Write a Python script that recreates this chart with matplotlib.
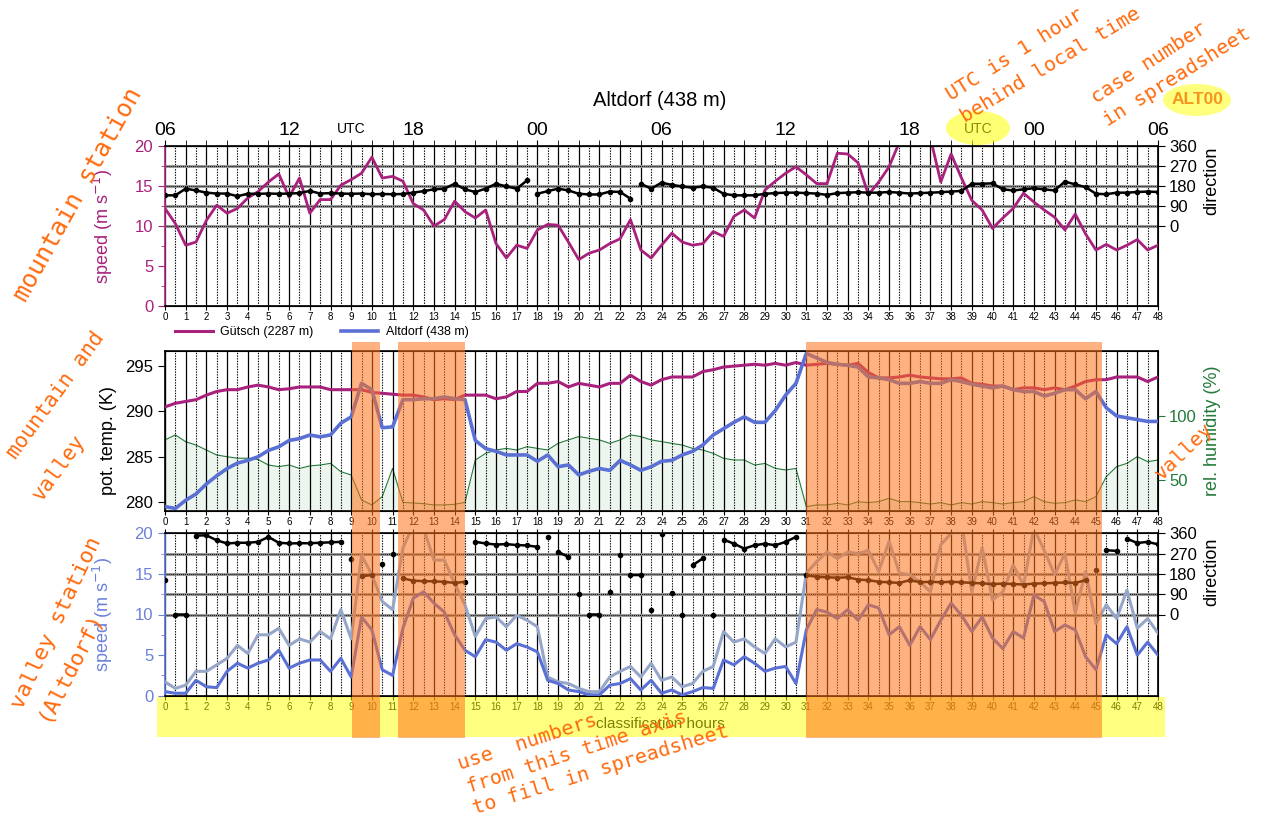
import numpy as np
import matplotlib.pyplot as plt
from matplotlib.patches import Rectangle, Ellipse
from matplotlib.transforms import blended_transform_factory

plt.rcParams['font.family'] = ['Liberation Sans', 'DejaVu Sans']

# 1 - data (half-hourly, classification hours 0..48)

hours = np.arange(0, 48.5, 0.5)

guetsch_speed = [12.2, 10.3, 7.6, 8.0, 10.7, 12.6, 11.6, 12.2, 13.5, 14.3,
                 15.5, 16.5, 13.6, 16.0, 11.6, 13.3, 13.3, 15.1, 15.8, 16.6,
                 18.6, 16.0, 16.2, 15.6, 12.8, 12.0, 10.0, 10.8, 13.1, 11.8,
                 11.0, 12.0, 7.8, 6.0, 7.6, 7.2, 9.5, 10.2, 10.1, 8.0,
                 5.8, 6.6, 7.0, 7.8, 8.4, 10.8, 7.0, 6.0, 7.6, 9.1,
                 8.0, 7.6, 7.8, 9.3, 8.7, 11.2, 12.0, 11.0, 14.5, 15.6,
                 16.6, 17.4, 16.4, 15.3, 15.3, 19.1, 19.0, 17.9, 13.9, 15.5,
                 17.4, 20.5, 23.0, 24.0, 21.0, 15.5, 19.0, 16.0, 13.2, 12.0,
                 9.7, 11.0, 12.2, 14.1, 13.0, 12.0, 11.1, 9.5, 11.5, 9.0,
                 7.0, 7.7, 7.0, 7.6, 8.3, 7.0, 7.6]

guetsch_dir = [138, 138, 168, 160, 150, 146, 146, 134, 145, 145,
               146, 145, 146, 148, 158, 146, 148, 146, 145, 146,
               143, 144, 143, 144, 150, 157, 165, 168, 190, 165,
               153, 168, 190, 178, 168, 205, 145, 157, 168, 160,
               145, 142, 142, 155, 153, 123, 190, 168, 195, 185,
               178, 172, 178, 172, 145, 138, 138, 138, 145, 148,
               150, 150, 148, 146, 140, 148, 150, 152, 150, 150,
               153, 150, 146, 148, 150, 152, 155, 158, 190, 190,
               192, 165, 160, 165, 170, 165, 160, 200, 187, 175,
               145, 143, 150, 150, 153, 155, 153]

guetsch_theta = [290.5, 290.9, 291.1, 291.3, 291.8, 292.2, 292.4, 292.4, 292.7, 292.9,
                 292.7, 292.4, 292.5, 292.7, 292.7, 292.7, 292.4, 292.4, 292.4, 292.4,
                 292.1, 292.0, 291.9, 291.8, 291.8, 291.6, 291.3, 291.4, 291.3, 291.8,
                 291.8, 291.8, 291.4, 291.6, 292.2, 292.2, 293.1, 293.1, 293.3, 292.7,
                 293.1, 292.9, 292.7, 293.1, 293.1, 294.0, 293.3, 292.9, 293.5, 293.8,
                 293.8, 293.8, 294.4, 294.6, 294.9, 295.0, 295.1, 295.2, 295.1, 295.3,
                 295.1, 295.4, 295.1, 295.2, 295.3, 295.2, 295.1, 295.3, 294.3, 293.7,
                 293.7, 293.8, 294.0, 293.8, 293.7, 293.6, 293.6, 293.7, 293.1, 293.0,
                 292.8, 292.8, 292.4, 292.6, 292.6, 292.4, 292.6, 292.4, 292.8, 293.3,
                 293.5, 293.5, 293.8, 293.8, 293.8, 293.3, 293.8]

altdorf_theta = [279.5, 279.3, 280.2, 280.9, 282.0, 282.9, 283.7, 284.3, 284.6, 285.0,
                 285.7, 286.1, 286.8, 287.0, 287.4, 287.2, 287.4, 288.7, 289.4, 293.1,
                 292.4, 288.2, 288.3, 291.3, 291.3, 291.4, 291.4, 291.6, 291.4, 291.3,
                 286.8, 285.9, 285.6, 285.2, 285.2, 285.2, 284.5, 285.2, 283.9, 284.1,
                 283.0, 283.4, 283.7, 283.5, 284.6, 284.1, 283.5, 283.9, 284.5, 284.6,
                 285.2, 285.6, 286.3, 287.4, 288.1, 288.8, 289.4, 288.8, 288.8, 290.1,
                 291.8, 293.1, 296.4, 295.9, 295.4, 295.2, 295.1, 294.9, 293.8, 293.7,
                 293.5, 293.1, 293.1, 293.3, 293.1, 293.1, 293.5, 293.3, 293.0, 292.8,
                 292.6, 292.8, 292.4, 292.2, 292.2, 291.7, 292.0, 292.4, 292.4, 291.4,
                 292.2, 290.4, 289.5, 289.3, 289.1, 288.9, 288.9]

altdorf_rh = [81.3, 85.2, 79.9, 77.3, 73.4, 69.5, 68.2, 67.0, 67.0, 66.0,
              61.7, 60.4, 61.7, 59.0, 61.0, 61.7, 63.0, 56.5, 53.9, 34.4,
              30.5, 37.0, 59.0, 32.5, 32.0, 31.5, 30.5, 30.5, 31.0, 32.5,
              65.6, 70.8, 73.4, 74.7, 73.4, 76.0, 74.7, 73.4, 78.6, 81.3,
              83.9, 82.6, 81.3, 78.6, 81.3, 85.2, 83.9, 81.3, 80.0, 78.6,
              77.3, 74.7, 73.4, 70.8, 66.9, 65.6, 65.6, 61.7, 62.9, 59.1,
              57.8, 59.0, 29.2, 30.5, 30.5, 31.8, 30.5, 33.0, 32.3, 33.1,
              35.7, 33.1, 33.1, 32.3, 31.2, 32.3, 30.5, 32.3, 31.2, 33.1,
              32.3, 31.2, 32.3, 33.1, 37.0, 33.1, 31.8, 32.3, 34.4, 33.1,
              37.0, 52.6, 60.4, 63.0, 68.2, 64.3, 65.6]

altdorf_speed = [0.5, 0.3, 0.3, 1.9, 1.1, 1.0, 3.0, 4.0, 3.4, 4.0,
                 4.4, 5.6, 3.4, 4.0, 4.4, 4.4, 3.0, 4.6, 2.3, 9.7,
                 8.1, 3.2, 2.5, 8.3, 12.0, 12.8, 11.4, 10.3, 7.5, 5.6,
                 4.8, 6.9, 6.6, 5.6, 6.4, 6.0, 5.4, 1.9, 1.5, 0.7,
                 0.5, 0.1, 0.1, 1.3, 1.5, 2.1, 0.7, 1.9, 0.3, 0.7,
                 0.1, 0.5, 1.0, 0.9, 4.4, 3.8, 4.8, 4.0, 3.0, 3.4,
                 3.6, 1.5, 8.1, 10.6, 10.3, 9.5, 10.6, 9.3, 11.2, 10.8,
                 7.5, 8.5, 6.2, 8.5, 6.9, 9.3, 11.4, 9.9, 7.9, 9.7,
                 7.1, 5.8, 7.9, 7.1, 12.4, 11.6, 7.9, 8.7, 8.1, 4.8,
                 3.2, 7.5, 6.4, 8.5, 5.0, 6.6, 5.0]

altdorf_gust = [1.7, 0.9, 1.3, 3.0, 3.0, 3.8, 4.6, 6.2, 5.2, 7.5,
                7.5, 8.3, 6.2, 7.0, 6.6, 7.9, 7.0, 10.6, 7.0, 17.3,
                14.9, 11.6, 10.6, 18.2, 21.0, 20.6, 16.7, 16.7, 13.8, 11.2,
                7.3, 9.5, 9.7, 8.5, 9.9, 9.3, 8.5, 2.3, 1.7, 1.5,
                0.9, 0.5, 0.5, 2.3, 3.0, 3.6, 2.3, 4.0, 1.9, 2.3,
                1.1, 1.5, 3.0, 3.6, 7.9, 6.6, 7.0, 6.0, 5.2, 7.0,
                6.0, 6.6, 15.1, 16.5, 17.7, 16.9, 17.7, 17.5, 17.9, 15.3,
                19.0, 15.1, 14.9, 14.0, 12.8, 18.6, 20.0, 21.5, 12.8, 18.2,
                11.8, 12.8, 16.1, 13.6, 20.6, 17.9, 14.9, 17.5, 10.2, 15.3,
                8.9, 11.2, 9.5, 13.0, 8.3, 9.5, 7.7]

altdorf_dir = [152, 0, 0, 350, 351, 329, 315, 318, 318, 322,
               344, 318, 315, 316, 316, 318, 320, 322, 244, 170,
               175, 225, 270, 160, 150, 148, 147, 145, 140, 145,
               322, 315, 310, 312, 308, 306, 300, 344, 278, 255,
               90, 0, 0, 101, 263, 175, 175, 20, 359, 95,
               0, 218, 249, 0, 332, 314, 292, 307, 314, 307,
               322, 344, 174, 167, 165, 163, 165, 155, 152, 145,
               143, 140, 152, 143, 145, 143, 145, 143, 140, 138,
               135, 137, 135, 133, 137, 138, 140, 142, 140, 152,
               196, 285, 282, 336, 317, 322, 311]

foehn_periods = [(9.03, 10.37), (11.27, 14.48), (30.98, 45.28)]

top_ticks = [0, 6, 12, 18, 24, 30, 36, 42, 48]
top_labels = ['06', '12', '18', '00', '06', '12', '18', '00', '06']

MAG = '#A8217D'
BLUE = '#5A70D4'
BLUE_TXT = '#6B80DA'
GUST = '#96A6C8'
GREEN = '#217A3A'
ORANGE_TXT = '#FF6A0D'

# 2 - figure and axes

W, H = 1268, 816
fig = plt.figure(figsize=(W / 100, H / 100), dpi=100)


def box(top, bot):
    return [165 / W, 1 - bot / H, 993 / W, (bot - top) / H]


ax1 = fig.add_axes(box(146, 306))
ax2 = fig.add_axes(box(350.7, 510.7))
ax3 = fig.add_axes(box(533.3, 695.7))


def time_grid(ax):
    for h in range(49):
        ax.axvline(h, color='black', lw=0.9, zorder=1)
    for h in np.arange(0.5, 48, 1):
        ax.axvline(h, color='black', lw=0.8, ls=(0, (1.2, 1.2)), zorder=1)
    ax.set_xlim(0, 48)
    ax.set_xticks(range(49))
    ax.set_xticklabels([str(h) for h in range(49)])
    ax.tick_params(axis='x', labelsize=7, length=3, pad=1.5)
    for s in ax.spines.values():
        s.set_linewidth(1.2)


def dir_grid(ax):
    for v in [10, 12.5, 15, 17.5]:
        ax.axhline(v, color='0.6', lw=2.2, zorder=1)
        ax.axhline(v, color='black', lw=0.7, ls=(0, (1, 1)), zorder=1)


def dir_axis(ax, label_y):
    axr = ax.twinx()
    axr.set_ylim(-360, 360)
    axr.set_yticks([0, 90, 180, 270, 360])
    axr.tick_params(labelsize=12, length=5, pad=3)
    axr.set_ylabel('direction', fontsize=13)
    axr.yaxis.set_label_coords(1.046, label_y)
    axr.spines['left'].set_visible(False)
    return axr


def dir_dots(axr, values, max_jump=40):
    # dots joined only where the direction changes little, like the dense 10-min dots
    xs, ys = [], []
    for i, v in enumerate(values):
        if i and abs(v - values[i - 1]) > max_jump:
            xs.append(np.nan)
            ys.append(np.nan)
        xs.append(hours[i])
        ys.append(v)
    axr.plot(xs, ys, '-o', color='black', lw=1.8, ms=3.0, zorder=4)


# top panel: mountain station
time_grid(ax1)
dir_grid(ax1)
ax1.plot(hours, guetsch_speed, color=MAG, lw=2.0, zorder=3)
ax1.set_ylim(0, 20)
ax1.set_yticks([0, 5, 10, 15, 20])
ax1.set_yticks(np.arange(0, 20, 2.5), minor=True)
ax1.tick_params(axis='y', colors=MAG, labelsize=12, length=5)
ax1.tick_params(axis='y', which='minor', colors=MAG, length=3)
ax1.spines['left'].set_color(MAG)
ax1.set_ylabel('speed (m s$^{-1}$)', color=MAG, fontsize=13)
ax1.yaxis.set_label_coords(-0.05, 0.5)

top = ax1.secondary_xaxis('top')
top.set_xticks(top_ticks, top_labels)
top.set_xticks(range(49), minor=True)
top.tick_params(labelsize=14, length=4, pad=1)
top.tick_params(which='minor', length=4)

ax1r = dir_axis(ax1, 0.78)
dir_dots(ax1r, guetsch_dir)

# middle panel: potential temperature and humidity
ax2r = ax2.twinx()
ax2r.fill_between(hours, 0, altdorf_rh, color='#EDF6EE', lw=0)
ax2r.plot(hours, altdorf_rh, color=GREEN, lw=0.8)
ax2r.set_ylim(26, 151)
ax2r.set_yticks([50, 100])
ax2r.tick_params(colors=GREEN, labelsize=12, length=5, pad=3)
ax2r.set_ylabel('rel. humidity (%)', color=GREEN, fontsize=13)
ax2r.yaxis.set_label_coords(1.046, 0.5)
ax2.set_zorder(ax2r.get_zorder() + 1)
ax2.patch.set_visible(False)

time_grid(ax2)
ax2.tick_params(axis='x', labelbottom=False)
ax2.plot(hours, guetsch_theta, color=MAG, lw=2.2, zorder=3, label='Gütsch (2287 m)')
ax2.plot(hours, altdorf_theta, color=BLUE, lw=2.6, zorder=3, label='Altdorf (438 m)')
ax2.set_ylim(279.05, 296.7)
ax2.set_yticks([280, 285, 290, 295])
ax2.tick_params(axis='y', labelsize=12, length=5)
ax2.set_ylabel('pot. temp. (K)', fontsize=13)
ax2.yaxis.set_label_coords(-0.048, 0.44)

fig.legend(loc='center left', bbox_to_anchor=(175 / W, 1 - 332 / H), ncol=2,
           frameon=False, fontsize=9, handlelength=3.0, columnspacing=2.2,
           handletextpad=0.6, borderpad=0, borderaxespad=0)

# bottom panel: valley station
time_grid(ax3)
dir_grid(ax3)
ax3.plot(hours, altdorf_gust, color=GUST, lw=2.2, zorder=3)
ax3.plot(hours, altdorf_speed, color=BLUE, lw=2.2, zorder=3)
ax3.set_ylim(0, 20)
ax3.set_yticks([0, 5, 10, 15, 20])
ax3.set_yticks(np.arange(0, 20, 2.5), minor=True)
ax3.tick_params(axis='y', colors=BLUE_TXT, labelsize=12, length=5)
ax3.tick_params(axis='y', which='minor', colors=BLUE_TXT, length=3)
ax3.tick_params(axis='x', top=True, labeltop=True)
ax3.spines['left'].set_color(BLUE)
ax3.set_ylabel('speed (m s$^{-1}$)', color=BLUE_TXT, fontsize=13)
ax3.yaxis.set_label_coords(-0.05, 0.5)

ax3r = dir_axis(ax3, 0.76)
dir_dots(ax3r, altdorf_dir)

# 3 - texts and overlays

fig.text(660 / W, 1 - 100 / H, 'Altdorf (438 m)', fontsize=14.5, ha='center', va='center')
fig.text(351 / W, 1 - 129 / H, 'UTC', fontsize=10, ha='center', va='center')
fig.text(978 / W, 1 - 129 / H, 'UTC', fontsize=10, ha='center', va='center')
fig.text(660 / W, 1 - 724 / H, 'classification hours', fontsize=11, ha='center', va='center')

fig.add_artist(Ellipse((978 / W, 1 - 128 / H), 64 / W, 34 / H, transform=fig.transFigure,
                       facecolor=(1, 1, 0), alpha=0.55, lw=0, zorder=4))
fig.add_artist(Ellipse((1197 / W, 1 - 100 / H), 68 / W, 32 / H, transform=fig.transFigure,
                       facecolor='#FFFF70', alpha=0.9, lw=0, zorder=4))
fig.text(1197 / W, 1 - 100 / H, 'ALT00', fontsize=12.5, fontweight='bold', color='#F7941D',
         ha='center', va='center', zorder=6)

# yellow band under the classification hours
fig.add_artist(Rectangle((157 / W, 1 - 737 / H), 1008 / W, 40 / H, transform=fig.transFigure,
                         facecolor=(1, 1, 0), alpha=0.5, lw=0, zorder=4))

# foehn periods
trans = blended_transform_factory(ax3.transData, fig.transFigure)
for a, b in foehn_periods:
    fig.add_artist(Rectangle((a, 1 - 738 / H), b - a, (738 - 342) / H, transform=trans,
                             facecolor=(1, 0.45, 0.1), alpha=0.55, lw=0, zorder=5))

notes = [
    ('mountain station', 78, 195, 61, 18),
    ('mountain and', 56, 395, 54, 15),
    ('valley', 59, 467, 54, 15),
    ('valley station', 57, 623, 65, 16),
    ('(Altdorf)', 70, 666, 63, 16),
    ('UTC is 1 hour', 1015, 55, 32, 14.5),
    ('behind local time', 1051, 65, 31, 14.5),
    ('case number', 1149, 63, 33, 14.5),
    ('in spreadsheet', 1177, 77, 32, 14.5),
    ('use  numbers', 527, 742, 18, 14.5),
    ('from this time axis', 577, 752, 18, 14.5),
    ('to fill in spreadsheet', 601, 770, 17, 14.5),
    ('valley', 1184, 452, 44, 14.5),
]
for txt, x, y, ang, size in notes:
    fig.text(x / W, 1 - y / H, txt, family='DejaVu Sans Mono', fontsize=size, color=ORANGE_TXT,
             rotation=ang, rotation_mode='anchor', ha='center', va='center', zorder=10)

plt.savefig('out.png', dpi=100)
